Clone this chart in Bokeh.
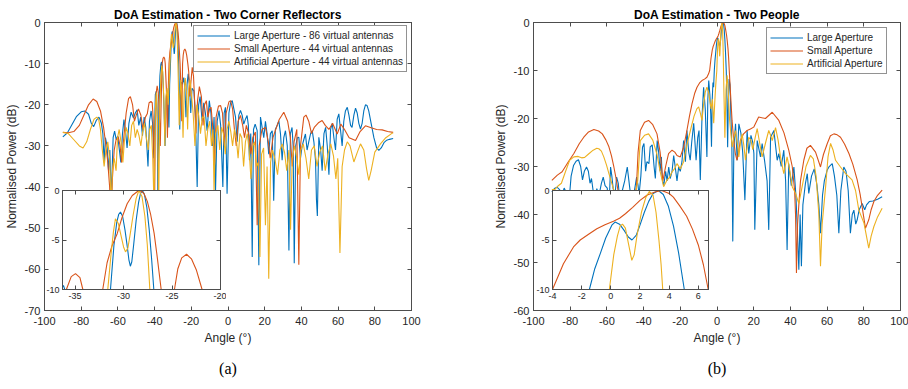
from bokeh.plotting import figure
from bokeh.models import Range1d, LinearAxis, Legend, FixedTicker, GridBox, Title
from bokeh.embed import file_html
from bokeh.resources import INLINE

# ---------------- data ----------------
X_TICKS = [-100, -80, -60, -40, -20, 0, 20, 40, 60, 80, 100]
A_Y_TICKS = [0, -10, -20, -30, -40, -50, -60, -70]
B_Y_TICKS = [0, -10, -20, -30, -40, -50, -60]
A_INSET_X_TICKS = [-35, -30, -25, -20]
B_INSET_X_TICKS = [-4, -2, 0, 2, 4, 6]
INSET_Y_TICKS = [0, -5, -10]

A_LABELS = ["Large Aperture - 86 virtual antennas",
            "Small Aperture - 44 virtual antennas",
            "Artificial Aperture - 44 virtual antennas"]
B_LABELS = ["Large Aperture", "Small Aperture", "Artificial Aperture"]

# (a) Two corner reflectors : (angle deg, power dB)
A_LARGE = [(-90,-27.8),(-87.5,-26.8),(-85,-24.8),(-82.5,-22.8),(-80,-21.7),(-78,-21.5),(-76,-22.3),(-74.5,-24.5),(-73.2,-25.3),(-71.8,-23.8),(-70.3,-23.0),(-69,-24.5),(-68.2,-27),(-67.5,-34),(-66.8,-28),(-65.9,-30),(-65.1,-36),(-64.4,-31),(-63.6,-43),(-62.6,-28),(-61.8,-26.4),(-60.9,-28.5),(-60.1,-27.6),(-59.2,-31),(-58.4,-34),(-57.5,-27),(-56.7,-23.6),(-55.8,-26.5),(-55,-30.5),(-54,-24.5),(-52.8,-21.8),(-51.5,-23.2),(-50.5,-22),(-49.5,-21.2),(-48.6,-25),(-47.6,-23),(-46.6,-27.5),(-45.7,-23),(-44.8,-25.5),(-43.6,-35),(-42.8,-24),(-41.9,-21.5),(-41.1,-24.5),(-40.4,-33),(-39.6,-17.5),(-39.0,-16.6),(-38.6,-22),(-38.2,-45),(-37.7,-22),(-37.1,-13),(-36.6,-10.2),(-36.2,-9.6),(-35.8,-10.8),(-35.3,-15),(-34.8,-22),(-34.3,-30),(-33.8,-19),(-33.3,-16.5),(-32.8,-19),(-32.2,-25.5),(-31.8,-15),(-31.35,-10),(-31.0,-5.6),(-30.7,-3.2),(-30.5,-2.4),(-30.32,-2.18),(-30.1,-2.6),(-29.85,-4.0),(-29.6,-5.8),(-29.45,-7.0),(-29.3,-7.65),(-29.15,-7.2),(-28.95,-5.4),(-28.7,-3.0),(-28.45,-1.2),(-28.25,-0.3),(-28.05,0.0),(-27.85,-0.4),(-27.6,-1.7),(-27.35,-4.0),(-27.1,-7.0),(-26.88,-10),(-26.6,-15),(-26.3,-26),(-25.9,-18),(-25.4,-14.5),(-24.9,-15),(-24.1,-13.4),(-23.5,-16),(-22.9,-23),(-22.3,-15),(-21.7,-12.5),(-21.0,-15),(-20.3,-22),(-19.6,-16),(-18.6,-16.6),(-17.8,-22),(-16.8,-40),(-16.0,-20),(-15.2,-18),(-14.1,-24),(-13.2,-19.5),(-12.3,-22),(-11.4,-26.3),(-10.2,-19),(-9.3,-22),(-8.4,-30),(-7.6,-23),(-6.8,-41),(-5.9,-24),(-4.9,-21.4),(-4.0,-25),(-2.8,-40),(-2.1,-22),(-1.4,-20.6),(-0.5,-41.6),(0.5,-22),(1.4,-19.5),(2.3,-19),(3.2,-21),(4.1,-23),(5.0,-29),(5.9,-22.5),(6.8,-21.4),(7.7,-22.5),(8.6,-24.7),(9.5,-23.5),(10.4,-22.6),(11.1,-25),(11.7,-33.5),(12.4,-27),(13.2,-57),(13.9,-26),(14.8,-24.7),(15.9,-26.3),(16.8,-59),(17.7,-23),(18.6,-25.5),(19.5,-28),(20.4,-24),(21.3,-27),(22.2,-32),(23.1,-27),(24.1,-26.3),(24.9,-43.3),(25.8,-26),(26.8,-25),(27.7,-23.9),(28.6,-27),(29.5,-33.5),(30.4,-28),(31.3,-26.3),(32.3,-30),(33.2,-55.4),(34.0,-27),(34.9,-25.5),(35.5,-30),(36.1,-58.5),(36.9,-30),(37.8,-28),(38.6,-27.9),(39.5,-33),(40.4,-30),(41.3,-28.5),(42.2,-27.1),(43.1,-31),(44.0,-29),(45.0,-27),(45.9,-26.3),(46.8,-29),(47.7,-33.5),(48.2,-43),(48.7,-47),(49.5,-27.9),(50.5,-31),(51.3,-36),(52.3,-27),(53.2,-25.5),(54.1,-30),(55.0,-37),(55.9,-26),(56.8,-24.5),(57.7,-28),(58.6,-31),(59.5,-23.5),(60.4,-22.2),(61.3,-26),(62.2,-30),(63.1,-24),(64.0,-21.5),(65.0,-20.6),(65.9,-22.5),(66.8,-25),(67.6,-25.5),(68.6,-22.5),(69.5,-20.8),(70.4,-22),(71.3,-24.5),(72.2,-25.9),(73.1,-24.5),(74.0,-21.5),(74.9,-20.0),(75.8,-20.2),(76.7,-21.5),(78.0,-24.5),(79.5,-28),(81.0,-30.5),(82.2,-31.1),(83.5,-30.5),(85.0,-29.2),(86.5,-28.6),(88.0,-28.4),(90.0,-28.2)]

A_SMALL = [(-90,-26.7),(-87,-26.8),(-84,-26.5),(-81,-25),(-78.5,-22.5),(-76,-20),(-73.5,-18.6),(-71.5,-19.2),(-69.5,-21.5),(-67.8,-25.5),(-66.5,-30),(-65.5,-34),(-64.5,-40),(-63.8,-48),(-63,-38),(-62,-31),(-61,-28.5),(-59.8,-27.8),(-58.8,-30),(-58,-34),(-57,-29),(-55.5,-22),(-54.2,-18.5),(-53.2,-18),(-52,-20),(-51,-24),(-50,-22.5),(-48.8,-21),(-47.5,-22.5),(-46.3,-26),(-45,-23),(-44,-22.2),(-43,-19.5),(-42,-19.2),(-41.3,-19.5),(-40.8,-23),(-40.4,-32),(-40.0,-44),(-39.6,-25),(-39.1,-17),(-38.6,-15.4),(-38.0,-17),(-37.5,-21),(-36.9,-30),(-36.5,-21),(-36.1,-13),(-35.9,-10),(-35.4,-8.7),(-34.96,-8.4),(-34.5,-8.8),(-34.2,-10),(-33.6,-16),(-33.0,-28),(-32.6,-17),(-32.15,-10),(-31.7,-7.3),(-31.2,-5.6),(-30.66,-4.36),(-30.15,-2.7),(-29.63,-1.34),(-29.1,-0.5),(-28.53,-0.07),(-28.2,-0.05),(-27.9,-0.3),(-27.55,-1.1),(-27.22,-2.35),(-26.85,-4.3),(-26.53,-6.7),(-26.12,-10),(-25.7,-15),(-25.2,-24),(-24.75,-10),(-24.4,-7.9),(-24.0,-6.8),(-23.5,-6.44),(-23.0,-6.9),(-22.5,-8.0),(-21.9,-10),(-21.4,-12),(-20.8,-18),(-20.3,-15),(-19.5,-10.9),(-18.8,-13),(-18.2,-19),(-17.5,-27),(-16.6,-19),(-15.6,-15.6),(-14.5,-18),(-13.6,-25),(-12.8,-20),(-11.8,-19),(-11.0,-23),(-10.0,-21),(-9.2,-20.6),(-8.4,-25),(-7.4,-35),(-6.5,-23),(-5.2,-20.3),(-4.0,-20.2),(-3.0,-22),(-2.0,-30),(-1.0,-22),(0.5,-19.3),(1.4,-19),(2.5,-21),(3.5,-26),(4.5,-30),(5.5,-24),(6.8,-22.6),(8.0,-25),(9.0,-28),(10.0,-25),(11.5,-27.5),(12.5,-32),(13.5,-28),(14.9,-26.6),(15.9,-49.3),(17.0,-30),(18.5,-26),(20.4,-25.5),(22.0,-29),(23.0,-33),(24.5,-28),(26.0,-26),(28.0,-23.5),(30.4,-21.8),(32.5,-24),(34.0,-28),(35.0,-35),(36.0,-29),(37.5,-26),(38.6,-58.9),(39.5,-30),(41.3,-23),(42.5,-22.5),(44.0,-24),(45.5,-27),(47.0,-25.5),(49.5,-24.3),(51.3,-23.8),(53.0,-25),(55.0,-26),(57.0,-24.5),(59.5,-27.1),(61.5,-24.7),(63.5,-26),(66.0,-28),(69.5,-28.7),(72.0,-26.5),(74.9,-25.1),(78.0,-25.6),(81.0,-26),(84.0,-26.1),(87.0,-26.5),(90.0,-26.7)]

A_ARTIFICIAL = [(-90,-26.7),(-87,-27),(-84,-28.5),(-81,-30),(-79,-30.5),(-77,-29),(-75,-26),(-73,-23.5),(-71.5,-23),(-70.5,-23.5),(-69.5,-26),(-68.5,-31),(-67.5,-35),(-66.5,-31),(-65.5,-29),(-64.5,-33),(-63.7,-45),(-63,-36),(-62,-33),(-61,-36),(-60.2,-28),(-59.3,-26),(-58.3,-29),(-57.3,-34),(-56.5,-29),(-55.5,-25.5),(-54.5,-27),(-53.5,-30),(-52.5,-25),(-51.5,-24),(-50.5,-28),(-49.5,-26),(-48.5,-27.5),(-47.5,-30),(-46.5,-26.5),(-45.5,-24.5),(-44.5,-28),(-43.5,-31),(-42.7,-26),(-41.8,-25),(-41,-33),(-40.3,-45),(-39.6,-21),(-39,-17),(-38.4,-24),(-37.8,-45),(-37.2,-22),(-36.6,-13),(-36.1,-10.5),(-35.6,-12),(-35.0,-18),(-34.4,-30),(-33.8,-18),(-33.2,-16),(-32.6,-20),(-32.0,-14),(-31.63,-10),(-31.3,-6.5),(-31.05,-4.2),(-30.84,-2.85),(-30.55,-3.3),(-30.25,-4.6),(-30.0,-5.7),(-29.8,-6.2),(-29.55,-5.8),(-29.3,-4.3),(-29.0,-2.4),(-28.7,-0.8),(-28.42,0),(-28.1,-0.6),(-27.8,-2.6),(-27.55,-5.5),(-27.29,-10),(-27.0,-16),(-26.6,-25),(-26.2,-18),(-25.7,-14),(-25.1,-18),(-24.5,-28),(-23.9,-17),(-23.3,-13.5),(-22.6,-17),(-22,-26),(-21.4,-16),(-20.7,-14),(-20,-17),(-19,-22),(-18,-30),(-17,-20),(-16,-22.5),(-15,-27),(-14,-23),(-13,-23),(-12,-30),(-11,-26),(-10,-24),(-9,-30),(-8.2,-26),(-7.6,-41),(-6.8,-27),(-5.5,-25),(-4.5,-31),(-3.5,-25.5),(-2.5,-27),(-1.5,-32),(-0.5,-26),(0.5,-24),(1.5,-26.5),(2.5,-30),(3.5,-26),(4.5,-28),(5.5,-33),(6.5,-27),(7.5,-28),(8.5,-35),(9.5,-29),(10.5,-27),(11.5,-31),(12.5,-38),(13.5,-30),(14.5,-29),(15.5,-35),(16.5,-34),(17.4,-57),(18.3,-32),(19.4,-30.5),(20.4,-49.3),(21.3,-35),(22.2,-62.3),(23.2,-34),(24.2,-31),(25.5,-33),(27,-37),(28.3,-31),(29.5,-29.5),(30.8,-31.5),(32,-36),(33.2,-31),(34.1,-50.4),(35,-33),(36.3,-30),(37.5,-33),(38.6,-37),(39.7,-31),(41,-29.5),(42.5,-33),(44,-38),(45.5,-31),(47,-30),(48.5,-35),(50,-31.5),(51.5,-30),(53,-36),(54.5,-32),(56,-29.5),(57.5,-32.5),(58.8,-38),(59.8,-33),(61,-56),(62.2,-35),(63.5,-31),(65,-29),(66.5,-30),(68.6,-33.9),(70.5,-31.5),(72.2,-29.5),(74,-31),(75.5,-35.5),(76.7,-38.4),(78,-36),(80,-31.5),(83.1,-29.5),(86,-28),(89.5,-26.9),(90,-26.8)]

# (b) Two people
B_LARGE = [(-90,-35.3),(-88.6,-34.6),(-87.2,-34.3),(-85.8,-34.8),(-84.5,-36),(-83.3,-34.5),(-82,-35.5),(-80.8,-38),(-79.5,-32),(-78.2,-29.8),(-76.8,-28.9),(-75.5,-28.6),(-74.3,-30),(-73.3,-32.8),(-72.3,-31),(-71.1,-30.1),(-70.1,-31),(-69.2,-33.5),(-68.4,-32.5),(-67.6,-34.8),(-66.5,-37),(-65.5,-34.6),(-64.3,-36),(-63,-33.5),(-62,-32.2),(-61,-34),(-59.8,-34.5),(-59,-40),(-58,-30.1),(-57.3,-32),(-56.6,-34.6),(-55.6,-36),(-54.7,-32.2),(-53.8,-33.5),(-52.8,-38),(-51.6,-35),(-50.3,-33),(-48.9,-30.1),(-48,-33),(-47.5,-34.6),(-46.3,-38),(-45,-35),(-43.8,-32.2),(-43,-34),(-42.5,-36),(-41.5,-32),(-40.6,-26),(-39.8,-25.2),(-38.9,-31),(-38.2,-29),(-37.1,-29.4),(-36.4,-25.9),(-35.3,-25.5),(-34.3,-30),(-33.6,-32.5),(-32.6,-24.6),(-31.8,-27),(-31,-31),(-30.3,-28),(-29.9,-32.5),(-29,-34),(-28,-31),(-27.2,-33),(-26.3,-30.1),(-25.5,-32.5),(-24.5,-31),(-23.6,-27.7),(-22.8,-30),(-21.8,-33),(-20.9,-30.1),(-20,-31),(-19.1,-29),(-18.2,-24.6),(-17.2,-29),(-16.4,-22.5),(-15.4,-27),(-14.6,-28.7),(-13.8,-25),(-12.7,-21),(-12.0,-25),(-11.4,-28.7),(-10.5,-24),(-9.8,-22.5),(-9.1,-32.8),(-8.2,-20),(-7.3,-13.5),(-6.4,-18),(-5.5,-28),(-5.0,-16),(-4.5,-12.1),(-3.9,-15),(-3.4,-19),(-3.0,-25.9),(-2.6,-16),(-2.2,-12.5),(-1.85,-13.5),(-1.47,-10),(-1.1,-7.9),(-0.73,-6.4),(-0.35,-4.8),(0.07,-3.5),(0.29,-3.19),(0.6,-3.4),(0.9,-4.0),(1.2,-4.7),(1.45,-5.0),(1.75,-4.5),(2.0,-3.5),(2.3,-2.2),(2.6,-1.1),(2.9,-0.3),(3.26,0),(3.6,-0.4),(3.95,-1.6),(4.3,-3.6),(4.65,-6.3),(5.04,-10),(5.4,-16),(5.8,-26),(6.2,-16),(6.6,-11.8),(7.1,-13),(7.6,-19.7),(8.1,-26),(8.6,-45.6),(9.2,-26),(10.1,-21.1),(11,-28.7),(11.9,-21.1),(13,-23),(14,-27),(15.2,-37),(16.4,-22.5),(17.3,-27.3),(18.5,-23.5),(19.5,-25),(20.1,-27.3),(20.6,-43.2),(21.9,-24.6),(23.7,-28),(24.6,-25.2),(26,-29),(27.3,-33),(28.2,-43.2),(29.2,-23.9),(31,-22.5),(32.8,-28.7),(33.7,-27.3),(35,-30),(36.4,-26.6),(37.4,-33),(38.2,-47.4),(39.1,-29.4),(40.5,-34),(41.9,-30.1),(43,-36),(43.7,-42.5),(44.6,-51.5),(45.3,-40),(46,-50.8),(46.8,-38),(48.2,-33.5),(49.2,-31.5),(50,-35.6),(51.5,-32),(53,-30.5),(54.5,-34),(55.5,-38),(56.4,-43.9),(57.5,-36),(58.5,-33),(60,-30.8),(61,-30.1),(62.8,-29.4),(64,-32),(65.3,-36),(66.4,-43.9),(67.5,-35),(69.1,-30.1),(70.3,-31),(71.5,-35),(72.7,-43.9),(73.7,-40),(74.6,-39.1),(75.6,-42),(76.4,-41.1),(77.5,-39),(79.1,-37.7),(80.5,-39),(81.5,-38),(83,-37.3),(85,-37.2),(87.5,-36.8),(90,-36.3)]

B_SMALL = [(-90,-32.9),(-87,-31.8),(-84.4,-31.1),(-81,-29),(-78,-27.3),(-75,-25.2),(-72.6,-23.9),(-70,-22.8),(-67.1,-22.3),(-64.5,-22.6),(-62.5,-23.2),(-60.5,-24.5),(-58.9,-25.9),(-57.5,-27.8),(-56.2,-30.1),(-55,-32.5),(-54,-34.9),(-53,-38),(-52,-42),(-51,-40),(-49,-38),(-47,-37),(-45.2,-37),(-43.9,-34.2),(-43,-27),(-41.8,-22.5),(-39.5,-20.8),(-37.3,-20.4),(-35,-21.3),(-32.7,-23.2),(-31,-27),(-29.5,-33),(-28,-30),(-26.4,-27.3),(-24.5,-26.6),(-23,-27),(-21.8,-27.7),(-20,-28),(-18.2,-26),(-16.4,-22.5),(-15,-19.5),(-13.6,-16.9),(-12.2,-14.8),(-10.9,-13.5),(-9.5,-12.6),(-8.2,-12.1),(-6.8,-11.8),(-5.5,-11.4),(-4.6,-10.7),(-4,-10),(-3.25,-7.4),(-2.56,-5.7),(-2.1,-5.0),(-1.5,-4.4),(-0.96,-3.86),(-0.4,-3.45),(0.18,-3.1),(0.6,-2.8),(1.0,-2.35),(1.5,-1.7),(2.0,-1.0),(2.5,-0.45),(3.03,-0.15),(3.49,0),(4.0,-0.3),(4.29,-0.67),(4.75,-1.6),(5.2,-2.6),(5.6,-3.9),(6.0,-5.5),(6.35,-7.5),(6.68,-10),(7.4,-15),(8.2,-20.4),(9.1,-24.5),(10,-27.3),(10.9,-28.7),(11.8,-27),(12.7,-24.6),(14.5,-23.2),(16.4,-22.5),(18.2,-22.2),(20,-21.8),(22.7,-19.7),(26.4,-20),(30.1,-18.7),(33.7,-20.4),(36.5,-23),(39.1,-26.6),(41,-30),(42.3,-35),(42.8,-40),(43.3,-52.2),(43.9,-42),(44.6,-38),(45.5,-33),(47.3,-28.7),(49,-26.2),(50.9,-25.6),(53.7,-27),(56.4,-30.1),(58,-27.5),(60.1,-25.2),(61.8,-23.6),(63.7,-23.2),(65.5,-23.4),(67.3,-23.9),(69.5,-25.3),(71.9,-27.3),(74,-29.5),(76.4,-32.8),(78,-35.8),(79.1,-38.4),(80.9,-42.9),(82.7,-41.1),(84,-39),(85.5,-37.3),(87.5,-36),(90,-34.9)]

B_ARTIFICIAL = [(-90,-34.8),(-88.4,-34.8),(-86.5,-34),(-84.8,-33.5),(-82.5,-31),(-80.3,-28.7),(-78,-28),(-75.7,-27.9),(-73.8,-28.2),(-72.1,-28.1),(-70,-27.4),(-67.5,-26.6),(-65.5,-26.2),(-64.4,-26.3),(-63,-26.8),(-61.7,-28),(-60.2,-29.7),(-58.9,-31.5),(-57.5,-33.3),(-56.2,-34.9),(-55,-37),(-53.5,-40),(-52,-38.5),(-50,-36),(-48,-35.5),(-46,-36.5),(-44.5,-35.8),(-43.2,-33),(-41.8,-24.6),(-39.5,-23.5),(-37.3,-23.2),(-35,-24.5),(-32.7,-27.5),(-31,-31),(-29.1,-34.2),(-27.5,-33),(-25.8,-32.2),(-24.5,-31.1),(-23.2,-30.5),(-21.8,-29.4),(-20,-30.5),(-18.2,-29),(-16.4,-25.5),(-14.5,-22.5),(-12.5,-19.5),(-11,-18),(-10,-17.6),(-9,-19),(-8.2,-20.4),(-7.3,-17),(-6.4,-14.5),(-5.5,-13.5),(-4.6,-14.5),(-4,-16),(-3.2,-18),(-2.5,-16),(-1.8,-21),(-1.0,-15),(-0.5,-12),(-0.1,-10),(0.2,-6.5),(0.45,-4.6),(0.64,-3.6),(0.8,-3.4),(1.0,-3.8),(1.2,-5.3),(1.44,-7.05),(1.6,-6.5),(1.8,-4.5),(2.1,-2.2),(2.4,-0.7),(2.64,-0.1),(2.9,-0.5),(3.1,-2.2),(3.3,-5.0),(3.45,-7.5),(3.56,-10),(3.8,-15),(4.3,-24),(4.9,-14),(5.5,-11),(6.1,-14),(6.8,-20),(7.4,-22.5),(8.3,-25.9),(9.2,-24),(10.1,-22.5),(11,-25),(11.9,-28),(12.8,-25),(13.7,-23.2),(14.6,-25.5),(15.5,-28.7),(16.4,-26),(17.3,-23.9),(18.5,-24.5),(19.5,-26.5),(20.8,-24),(21.9,-22.1),(23.2,-25),(24.6,-28),(26.5,-25),(28.2,-22.5),(29.2,-23.5),(30.1,-24.6),(31.9,-21.9),(33.3,-24.5),(34.6,-28),(36.4,-31.5),(38.2,-28),(39.5,-30.5),(41,-34.2),(42.8,-35.6),(44.6,-37.7),(46.5,-34),(48.5,-30),(50.9,-27.7),(52.5,-28.4),(54,-32),(55.5,-40),(56.4,-50.8),(57.3,-42),(59.2,-34.2),(60.5,-28),(61.9,-25.2),(63.2,-26.5),(64.6,-28.7),(67.3,-30.1),(70.1,-31.5),(73.6,-32.8),(75.5,-35),(77.3,-39.1),(80.1,-41.8),(82.7,-47),(84,-44.5),(85.5,-42.5),(87.5,-40.5),(90,-38.7)]

# ---------------- style ----------------
COLORS = ["#0072BD", "#D95319", "#EDB120"]
FONT = "Liberation Sans"
AXC = "#4d4d4d"
TXC = "#262626"


def xs(series):
    return [a for a, _ in series]


def ys(series):
    return [d for _, d in series]


def style_axis(ax, ticks, size, standoff):
    ax.ticker = FixedTicker(ticks=ticks)
    ax.major_label_overrides = {t: str(t) for t in ticks}
    ax.major_tick_in = 4
    ax.major_tick_out = 0
    ax.minor_tick_line_color = None
    ax.axis_line_color = AXC
    ax.major_tick_line_color = AXC
    ax.major_label_text_font = FONT
    ax.major_label_text_font_size = size
    ax.major_label_text_color = TXC
    ax.major_label_standoff = standoff
    ax.axis_label_text_font = FONT
    ax.axis_label_text_font_size = "12px"
    ax.axis_label_text_font_style = "normal"
    ax.axis_label_text_color = TXC
    ax.axis_label_standoff = 3


def mirror_axes(p, xticks, yticks):
    # tick marks on the top and right edges of the box, without labels
    for ticks, side in ((xticks, "above"), (yticks, "right")):
        ax = LinearAxis(ticker=FixedTicker(ticks=ticks), major_label_text_font_size="1px",
                        major_label_text_color=None, major_label_standoff=0,
                        major_tick_in=4, major_tick_out=0, minor_tick_line_color=None,
                        axis_line_color=AXC, major_tick_line_color=AXC)
        p.add_layout(ax, side)


def main_fig(title, ylim, yticks, borders, series, labels, legend_loc, caption):
    l, r, t, b = borders
    p = figure(width=454, height=389, x_range=Range1d(-100, 100), y_range=Range1d(ylim, 0),
               output_backend="svg", toolbar_location=None,
               min_border_left=l, min_border_right=r, min_border_top=t, min_border_bottom=b)
    p.title.text = title
    p.title.text_font = FONT
    p.title.text_font_size = "12px"
    p.title.text_font_style = "bold"
    p.title.align = "center"
    p.title.text_color = "#000000"
    p.title.standoff = 2
    p.xgrid.visible = False
    p.ygrid.visible = False
    p.outline_line_color = AXC
    p.background_fill_color = "white"
    style_axis(p.xaxis[0], X_TICKS, "11px", 6)
    style_axis(p.yaxis[0], yticks, "11px", 4)
    p.xaxis[0].axis_label = "Angle (°)"
    p.yaxis[0].axis_label = "Normalised Power (dB)"
    mirror_axes(p, X_TICKS, yticks)
    rends = []
    for s, c in zip(series, COLORS):
        rends.append(p.line(xs(s), ys(s), line_color=c, line_width=1.1))
    leg = Legend(items=[(lab, [rr]) for lab, rr in zip(labels, rends)], location=legend_loc)
    leg.label_text_font = FONT
    leg.label_text_font_size = "10px"
    leg.label_text_color = TXC
    leg.glyph_width = 33
    leg.glyph_height = 13
    leg.label_height = 13
    leg.label_standoff = 4
    leg.spacing = 0
    leg.padding = 3
    leg.margin = 0
    leg.border_line_color = "#262626"
    leg.border_line_width = 1
    leg.background_fill_alpha = 1
    p.add_layout(leg)
    cap = Title(text=caption, align="center", text_font="Liberation Serif",
                text_font_size="16px", text_font_style="normal", text_color="#000000",
                standoff=21)
    p.add_layout(cap, "below")
    return p


def inset_fig(xr, xticks, width, series):
    p = figure(width=width, height=122, x_range=Range1d(*xr), y_range=Range1d(-10, 0),
               output_backend="svg", toolbar_location=None,
               min_border_left=20, min_border_right=6, min_border_top=5, min_border_bottom=18)
    p.border_fill_alpha = 0
    p.background_fill_color = "white"
    p.outline_line_color = AXC
    p.xgrid.visible = False
    p.ygrid.visible = False
    style_axis(p.xaxis[0], xticks, "9px", 3)
    style_axis(p.yaxis[0], INSET_Y_TICKS, "9px", 3)
    mirror_axes(p, xticks, INSET_Y_TICKS)
    for s, c in zip(series, COLORS):
        p.line(xs(s), ys(s), line_color=c, line_width=1.1)
    return p


A = main_fig("DoA Estimation - Two Corner Reflectors", -70, A_Y_TICKS, (44, 43, 22, 79),
             [A_LARGE, A_SMALL, A_ARTIFICIAL], A_LABELS, (149, 238), "(a)")
a = inset_fig((-36.3, -20), A_INSET_X_TICKS, 184, [A_LARGE, A_SMALL, A_ARTIFICIAL])
B = main_fig("DoA Estimation - Two People", -60, B_Y_TICKS, (79, 8, 22, 78),
             [B_LARGE, B_SMALL, B_ARTIFICIAL], B_LABELS, (233, 236), "(b)")
b = inset_fig((-4, 6.7), B_INSET_X_TICKS, 182, [B_LARGE, B_SMALL, B_ARTIFICIAL])

ROW_SIZES = ["185px", "122px", "82px"]
COL_SIZES = ["42px", "184px", "228px", "78px", "182px", "194px"]
layout = GridBox(children=[(A, 0, 0, 3, 3), (a, 1, 1, 1, 1), (B, 0, 3, 3, 3), (b, 1, 4, 1, 1)],
                 rows=ROW_SIZES, cols=COL_SIZES, spacing=0)
open("out.html", "w").write(file_html(layout, INLINE))
